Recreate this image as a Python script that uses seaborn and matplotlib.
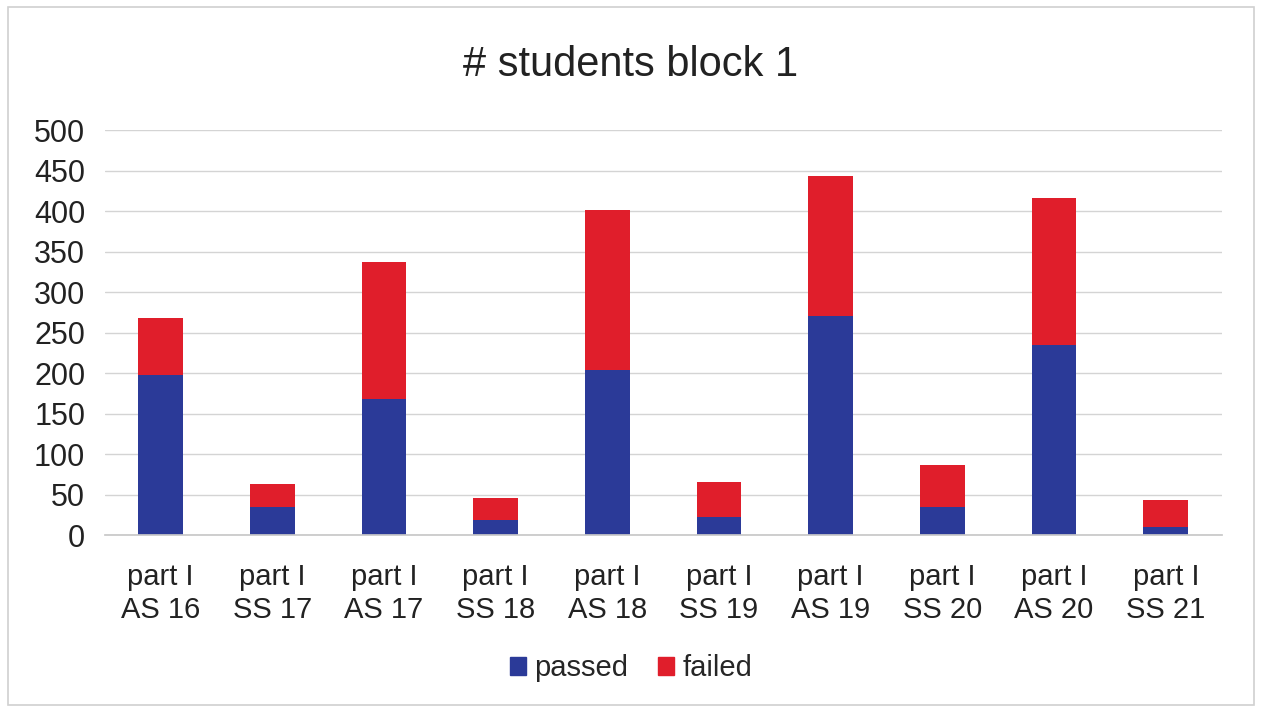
import pandas as pd
import seaborn as sns
import matplotlib.pyplot as plt
from matplotlib.patches import Patch, Rectangle

terms = ['part I\nAS 16', 'part I\nSS 17', 'part I\nAS 17', 'part I\nSS 18', 'part I\nAS 18',
         'part I\nSS 19', 'part I\nAS 19', 'part I\nSS 20', 'part I\nAS 20', 'part I\nSS 21']
passed = [198, 35, 168, 19, 204, 23, 271, 35, 235, 10]
failed = [70, 29, 169, 27, 198, 43, 172, 52, 181, 34]

BLUE = '#2b3a98'
RED = '#e01e2b'

df = pd.DataFrame({'term': terms, 'passed': passed, 'failed': failed})
df['total'] = df['passed'] + df['failed']

sns.set_theme(style='white')
plt.rcParams['font.family'] = ['Liberation Sans', 'DejaVu Sans']

fig = plt.figure(figsize=(12.62, 7.11), dpi=100)
ax = fig.add_axes([0.083, 0.247, 0.885, 0.570])

# stacked: total in red behind, passed in blue in front
sns.barplot(data=df, x='term', y='total', color=RED, saturation=1, width=0.4,
            linewidth=0, ax=ax)
sns.barplot(data=df, x='term', y='passed', color=BLUE, saturation=1, width=0.4,
            linewidth=0, ax=ax)

ax.set_ylim(0, 500)
ax.set_xlim(-0.5, len(terms) - 0.5)
ax.set_yticks(range(0, 501, 50))
ax.yaxis.grid(True, color='#d4d4d4', linewidth=1)
ax.set_axisbelow(True)
for s in ['top', 'right', 'left']:
    ax.spines[s].set_visible(False)
ax.spines['bottom'].set_color('#c8c8c8')
ax.tick_params(axis='x', labelsize=21, length=0, colors='#222222', pad=20)
ax.tick_params(axis='y', labelsize=22, length=0, colors='#222222', pad=14)
ax.set_xlabel('')
ax.set_ylabel('')

fig.suptitle('# students block 1', fontsize=30, y=0.909, va='center', color='#222222')

handles = [Patch(color=BLUE, label='passed'), Patch(color=RED, label='failed')]
fig.legend(handles=handles, loc='center', bbox_to_anchor=(0.5, 0.06), ncol=2, frameon=False,
           fontsize=21, handlelength=0.55, handleheight=0.55, handletextpad=0.3, columnspacing=1.0)

fig.patches.append(Rectangle((0.006, 0.008), 0.988, 0.982, transform=fig.transFigure,
                             fill=False, edgecolor='#d0d0d0', linewidth=1.2))

fig.savefig('out.png', dpi=100)
